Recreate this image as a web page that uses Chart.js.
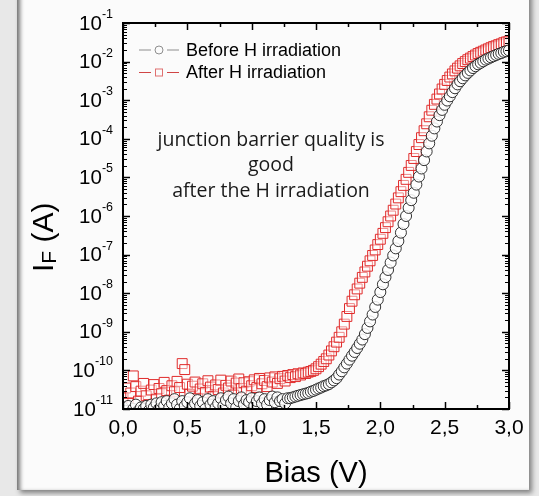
<!DOCTYPE html>
<html lang="en">
<head>
<meta charset="UTF-8">
<title>IF vs Bias before / after H irradiation</title>
<style>
    html, body {
        margin: 0;
        padding: 0;
    }
    body {
        width: 539px;
        height: 496px;
        background-color: #e8e8e8;
        position: relative;
        overflow: hidden;
    }
    .panel {
        position: absolute;
        left: 17px;
        top: -10px;
        width: 512px;
        height: 500px;
        background-color: #fbfbfb;
        box-shadow: 3px 3px 5px rgba(0, 0, 0, 0.45), inset 5px 0 4px -2px rgba(0, 0, 0, 0.55);
    }
    canvas {
        position: absolute;
        left: 0;
        top: 0;
    }
</style>
<script src="https://cdn.jsdelivr.net/npm/chart.js"></script>
</head>
<body>
<div class="panel"></div>
<canvas id="ivChart" width="539" height="496"></canvas>
<script>
// bias voltage (V)
const bias = [
    0, 0.02, 0.04, 0.06, 0.08, 0.1, 0.12, 0.14, 0.16, 0.18,
    0.2, 0.22, 0.24, 0.26, 0.28, 0.3, 0.32, 0.34, 0.36, 0.38,
    0.4, 0.42, 0.44, 0.46, 0.48, 0.5, 0.52, 0.54, 0.56, 0.58,
    0.6, 0.62, 0.64, 0.66, 0.68, 0.7, 0.72, 0.74, 0.76, 0.78,
    0.8, 0.82, 0.84, 0.86, 0.88, 0.9, 0.92, 0.94, 0.96, 0.98,
    1.0, 1.02, 1.04, 1.06, 1.08, 1.1, 1.12, 1.14, 1.16, 1.18,
    1.2, 1.22, 1.24, 1.26, 1.28, 1.3, 1.32, 1.34, 1.36, 1.38,
    1.4, 1.42, 1.44, 1.46, 1.48, 1.5, 1.52, 1.54, 1.56, 1.58,
    1.6, 1.62, 1.64, 1.66, 1.68, 1.7, 1.72, 1.74, 1.76, 1.78,
    1.8, 1.82, 1.84, 1.86, 1.88, 1.9, 1.92, 1.94, 1.96, 1.98,
    2.0, 2.02, 2.04, 2.06, 2.08, 2.1, 2.12, 2.14, 2.16, 2.18,
    2.2, 2.22, 2.24, 2.26, 2.28, 2.3, 2.32, 2.34, 2.36, 2.38,
    2.4, 2.42, 2.44, 2.46, 2.48, 2.5, 2.52, 2.54, 2.56, 2.58,
    2.6, 2.62, 2.64, 2.66, 2.68, 2.7, 2.72, 2.74, 2.76, 2.78,
    2.8, 2.82, 2.84, 2.86, 2.88, 2.9, 2.92, 2.94, 2.96, 2.98,
    3.0
];

// forward current (A), before H irradiation
const beforeIF = [
    1.1e-11, 0.9e-11, 1.2e-11, 0.8e-11, 1.0e-11, 1.3e-11, 0.9e-11, 1.1e-11, 1.0e-11, 1.2e-11,
    0.9e-11, 1.3e-11, 1.1e-11, 1.4e-11, 1.0e-11, 1.5e-11, 1.2e-11, 1.6e-11, 1.1e-11, 1.4e-11,
    1.8e-11, 1.3e-11, 1.0e-11, 1.6e-11, 1.2e-11, 1.5e-11, 1.9e-11, 1.1e-11, 1.4e-11, 1.7e-11,
    1.2e-11, 1.5e-11, 1.0e-11, 1.8e-11, 1.3e-11, 1.6e-11, 1.1e-11, 1.4e-11, 1.9e-11, 1.2e-11,
    1.7e-11, 2.1e-11, 1.4e-11, 1.8e-11, 1.1e-11, 1.6e-11, 2.0e-11, 1.3e-11, 1.7e-11, 1.5e-11,
    1.9e-11, 1.2e-11, 1.6e-11, 2.0e-11, 1.4e-11, 1.8e-11, 1.3e-11, 1.7e-11, 2.1e-11, 1.5e-11,
    2.0e-11, 1.6e-11, 1.8e-11, 1.4e-11, 1.9e-11, 1.9e-11, 2.0e-11, 2.1e-11, 2.2e-11, 2.3e-11,
    2.4e-11, 2.5e-11, 2.6e-11, 2.8e-11, 2.95e-11, 3.16e-11, 3.4e-11, 3.6e-11, 3.9e-11, 4.1e-11,
    4.4e-11, 4.9e-11, 5.5e-11, 6.3e-11, 7.8e-11, 9.5e-11, 1.2e-10, 1.5e-10, 1.9e-10, 2.4e-10,
    3.0e-10, 3.8e-10, 4.9e-10, 6.3e-10, 8.7e-10, 1.26e-9, 1.86e-9, 2.8e-9, 4.4e-9, 6.8e-9,
    1.07e-8, 1.7e-8, 2.6e-8, 4.0e-8, 6.2e-8, 9.5e-8, 1.45e-7, 2.24e-7, 3.7e-7, 6.2e-7,
    1.0e-6, 1.62e-6, 2.57e-6, 4.0e-6, 6.5e-6, 1.05e-5, 1.7e-5, 2.8e-5, 4.7e-5, 7.6e-5,
    1.2e-4, 1.86e-4, 2.8e-4, 4.1e-4, 5.6e-4, 7.6e-4, 9.8e-4, 1.26e-3, 1.62e-3, 2.04e-3,
    2.57e-3, 3.1e-3, 3.7e-3, 4.4e-3, 5.1e-3, 5.9e-3, 6.8e-3, 7.6e-3, 8.5e-3, 9.3e-3,
    1.02e-2, 1.12e-2, 1.2e-2, 1.29e-2, 1.38e-2, 1.48e-2, 1.58e-2, 1.66e-2, 1.78e-2, 1.86e-2,
    1.95e-2
];

// forward current (A), after H irradiation
const afterIF = [
    2.0e-11, 3.5e-11, 1.4e-11, 2.6e-11, 7.2e-11, 3.8e-11, 1.6e-11, 2.9e-11, 4.6e-11, 2.2e-11,
    1.3e-11, 3.1e-11, 4.3e-11, 1.8e-11, 3.4e-11, 2.5e-11, 4.9e-11, 3.0e-11, 1.7e-11, 4.0e-11,
    2.8e-11, 5.2e-11, 3.6e-11, 1.5e-10, 1.05e-10, 4.4e-11, 2.4e-11, 3.9e-11, 5.0e-11, 1.9e-11,
    3.3e-11, 4.5e-11, 2.7e-11, 5.4e-11, 3.7e-11, 2.1e-11, 4.2e-11, 3.2e-11, 5.6e-11, 2.6e-11,
    4.1e-11, 3.5e-11, 5.3e-11, 2.3e-11, 4.7e-11, 6.0e-11, 3.4e-11, 4.8e-11, 2.9e-11, 5.1e-11,
    4.0e-11, 5.7e-11, 3.6e-11, 6.2e-11, 4.5e-11, 5.5e-11, 3.8e-11, 6.4e-11, 5.0e-11, 6.8e-11,
    4.6e-11, 6.1e-11, 7.0e-11, 5.3e-11, 7.4e-11, 6.5e-11, 7.8e-11, 6.9e-11, 8.2e-11, 7.6e-11,
    8.6e-11, 8.3e-11, 9.0e-11, 9.4e-11, 1.0e-10, 1.1e-10, 1.25e-10, 1.45e-10, 1.7e-10, 2.0e-10,
    2.5e-10, 3.2e-10, 4.1e-10, 5.4e-10, 7.2e-10, 1.0e-9, 1.58e-9, 2.5e-9, 4.0e-9, 6.2e-9,
    9.1e-9, 1.29e-8, 1.82e-8, 2.57e-8, 3.55e-8, 5.0e-8, 6.9e-8, 9.5e-8, 1.32e-7, 1.82e-7,
    2.5e-7, 3.55e-7, 5.0e-7, 7.1e-7, 1.0e-6, 1.41e-6, 2.04e-6, 2.95e-6, 4.27e-6, 6.2e-6,
    8.9e-6, 1.35e-5, 2.04e-5, 3.09e-5, 4.68e-5, 7.1e-5, 1.07e-4, 1.62e-4, 2.45e-4, 3.72e-4,
    5.5e-4, 7.8e-4, 1.07e-3, 1.45e-3, 1.95e-3, 2.57e-3, 3.24e-3, 3.98e-3, 4.79e-3, 5.75e-3,
    6.76e-3, 7.76e-3, 8.91e-3, 1.0e-2, 1.12e-2, 1.23e-2, 1.35e-2, 1.48e-2, 1.62e-2, 1.74e-2,
    1.86e-2, 2.0e-2, 2.14e-2, 2.29e-2, 2.45e-2, 2.57e-2, 2.75e-2, 2.88e-2, 3.09e-2, 3.24e-2,
    3.39e-2
];

const seriesNames = ['Before H irradiation', 'After H irradiation'];
const xTicks = [0, 0.5, 1.0, 1.5, 2.0, 2.5, 3.0];
const xTickLabels = ['0,0', '0,5', '1,0', '1,5', '2,0', '2,5', '3,0'];
const yExponents = [-11, -10, -9, -8, -7, -6, -5, -4, -3, -2, -1];
const noteLines = ['junction barrier quality is', 'good', 'after the H irradiation'];

const ARIAL = "'Liberation Sans', Arial, sans-serif";

function seg(ctx, x1, y1, x2, y2) {
    ctx.beginPath();
    ctx.moveTo(x1, y1);
    ctx.lineTo(x2, y2);
    ctx.stroke();
}

// frame, inside ticks, labels, legend and note
const decorPlugin = {
    id: 'decor',
    afterDatasetsDraw(chart) {
        const ctx = chart.ctx;
        const a = chart.chartArea;
        const xs = chart.scales.x;
        const ys = chart.scales.y;
        ctx.save();
        ctx.strokeStyle = '#000';
        ctx.fillStyle = '#000';

        // x ticks (top and bottom), minor halfway between majors
        ctx.lineWidth = 1.5;
        xTicks.forEach(v => {
            const px = Math.round(xs.getPixelForValue(v)) + 0.5;
            seg(ctx, px, a.bottom, px, a.bottom - 7);
            seg(ctx, px, a.top, px, a.top + 7);
        });
        for (let i = 0; i < xTicks.length - 1; i++) {
            const px = Math.round(xs.getPixelForValue((xTicks[i] + xTicks[i + 1]) / 2)) + 0.5;
            seg(ctx, px, a.bottom, px, a.bottom - 4);
            seg(ctx, px, a.top, px, a.top + 4);
        }

        // y ticks (left and right), log minors
        yExponents.forEach(e => {
            const py = Math.round(ys.getPixelForValue(Math.pow(10, e))) + 0.5;
            ctx.lineWidth = 1.5;
            seg(ctx, a.left, py, a.left + 7, py);
            seg(ctx, a.right, py, a.right - 7, py);
            if (e < yExponents[yExponents.length - 1]) {
                ctx.lineWidth = 1;
                for (let m = 2; m <= 9; m++) {
                    const pm = Math.round(ys.getPixelForValue(m * Math.pow(10, e))) + 0.5;
                    seg(ctx, a.left, pm, a.left + 4, pm);
                    seg(ctx, a.right, pm, a.right - 4, pm);
                }
            }
        });

        // frame
        ctx.lineWidth = 2;
        ctx.strokeRect(a.left, a.top, a.right - a.left, a.bottom - a.top);

        // x tick labels
        ctx.font = '21px ' + ARIAL;
        ctx.textAlign = 'center';
        ctx.textBaseline = 'middle';
        xTicks.forEach((v, i) => {
            ctx.fillText(xTickLabels[i], xs.getPixelForValue(v), a.bottom + 19);
        });

        // y tick labels 10^n
        const labelRight = a.left - 10;
        ctx.textAlign = 'left';
        yExponents.forEach(e => {
            const py = ys.getPixelForValue(Math.pow(10, e));
            const sup = '-' + Math.abs(e);
            ctx.font = '12.5px ' + ARIAL;
            const ws = ctx.measureText(sup).width;
            ctx.font = '20.5px ' + ARIAL;
            const wb = ctx.measureText('10').width;
            ctx.textBaseline = 'middle';
            ctx.fillText('10', labelRight - ws - wb, py + 1);
            ctx.font = '12.5px ' + ARIAL;
            ctx.textBaseline = 'alphabetic';
            ctx.fillText(sup, labelRight - ws, py - 5);
        });

        // x title
        ctx.font = '29px ' + ARIAL;
        ctx.textAlign = 'center';
        ctx.textBaseline = 'middle';
        ctx.fillText('Bias (V)', (a.left + a.right) / 2, 474);

        // y title I_F (A), rotated
        ctx.save();
        ctx.translate(53, 272);
        ctx.rotate(-Math.PI / 2);
        ctx.textAlign = 'left';
        ctx.textBaseline = 'alphabetic';
        ctx.font = '30px ' + ARIAL;
        ctx.fillText('I', 0, 0);
        let w = ctx.measureText('I').width;
        ctx.font = '21px ' + ARIAL;
        ctx.fillText('F', w, 3);
        w += ctx.measureText('F').width;
        ctx.font = '30px ' + ARIAL;
        ctx.fillText(' (A)', w, 0);
        ctx.restore();

        // legend
        ctx.font = '18px ' + ARIAL;
        ctx.textAlign = 'left';
        ctx.textBaseline = 'middle';
        ctx.lineWidth = 1;
        const ly = [50, 72.5];
        ctx.strokeStyle = '#8e8e8e';
        seg(ctx, 139, ly[0], 151, ly[0]);
        seg(ctx, 167, ly[0], 179, ly[0]);
        ctx.beginPath();
        ctx.arc(159, ly[0], 4, 0, Math.PI * 2);
        ctx.stroke();
        ctx.strokeStyle = '#d04545';
        seg(ctx, 139, ly[1], 151, ly[1]);
        seg(ctx, 167, ly[1], 179, ly[1]);
        ctx.strokeStyle = '#e07070';
        ctx.strokeRect(155.5, ly[1] - 3.5, 7, 7);
        ctx.fillStyle = '#000';
        ctx.fillText(seriesNames[0], 186, ly[0] + 1);
        ctx.fillText(seriesNames[1], 186, ly[1] + 1);

        // note
        ctx.font = "19.5px 'Open Sans', sans-serif";
        ctx.textAlign = 'center';
        ctx.fillStyle = '#1a1a1a';
        noteLines.forEach((t, i) => {
            ctx.fillText(t, 271, 140 + i * 25.7);
        });

        ctx.restore();
    }
};

new Chart(document.getElementById('ivChart'), {
    type: 'scatter',
    data: {
        datasets: [
            {
                label: seriesNames[0],
                data: bias.map((v, i) => ({ x: v, y: beforeIF[i] })),
                pointStyle: 'circle',
                pointRadius: 5.5,
                pointBorderWidth: 0.9,
                pointBorderColor: '#1c1c1c',
                pointBackgroundColor: 'rgba(255,255,255,0.85)',
                showLine: false
            },
            {
                label: seriesNames[1],
                data: bias.map((v, i) => ({ x: v, y: afterIF[i] })),
                pointStyle: 'rect',
                pointRadius: 7,
                pointBorderWidth: 1,
                pointBorderColor: '#e02a2a',
                pointBackgroundColor: 'rgba(255,255,255,0.45)',
                showLine: false
            }
        ]
    },
    options: {
        responsive: false,
        devicePixelRatio: 1,
        animation: false,
        events: [],
        layout: { padding: { left: 123, top: 23, right: 30, bottom: 87 } },
        plugins: {
            legend: { display: false },
            tooltip: { enabled: false }
        },
        scales: {
            x: { type: 'linear', min: 0, max: 3, display: false },
            y: { type: 'logarithmic', min: 1e-11, max: 1e-1, display: false }
        }
    },
    plugins: [decorPlugin]
});
</script>
</body>
</html>
